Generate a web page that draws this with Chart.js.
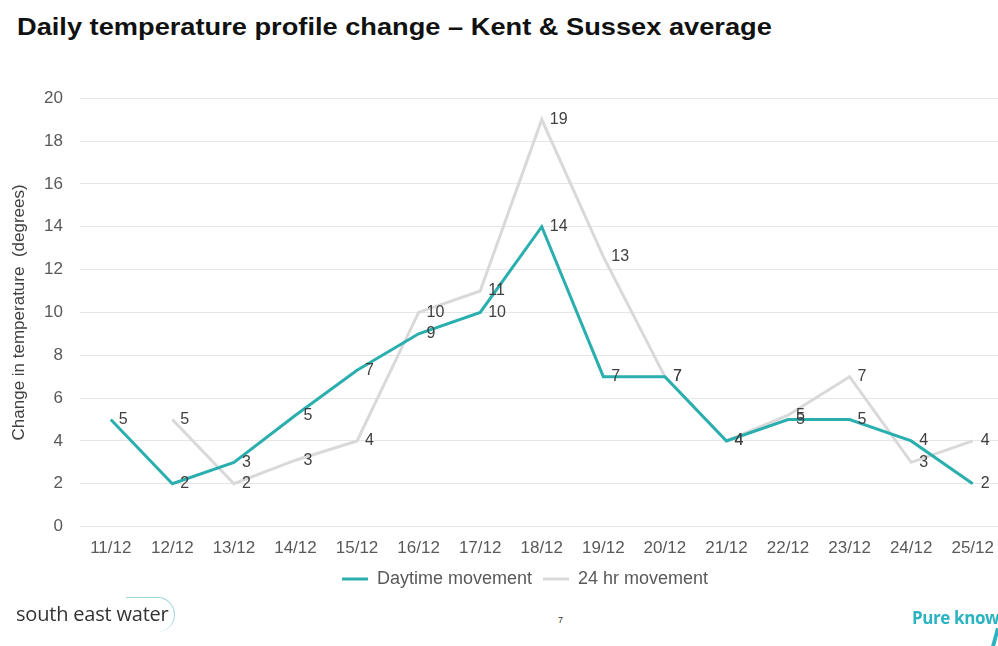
<!DOCTYPE html>
<html>
<head>
<meta charset="utf-8">
<script src="https://cdn.jsdelivr.net/npm/chart.js@4.4.1/dist/chart.umd.min.js"></script>
<style>
  html, body { margin: 0; padding: 0; background: #fff; overflow: hidden; }
  body { width: 998px; height: 646px; position: relative; font-family: "Liberation Sans", Arial, sans-serif; }
  #title { position: absolute; left: 17px; top: 13px; font-size: 24px; font-weight: bold; color: #111; white-space: nowrap; transform: scaleX(1.134); transform-origin: left top; }
  #wrap { position: absolute; left: 0; top: 71px; width: 1006px; height: 539px; }
  #logo { position: absolute; left: 16px; top: 600px; font-family: "Open Sans", sans-serif; font-size: 20px; color: #333; letter-spacing: -0.2px; }
  #arc { position: absolute; left: 126px; top: 597px; width: 48px; height: 34px; border: 1px solid #9fd6dd; border-left: none; border-bottom: none; border-radius: 0 40px 40px 0; }
  #page { position: absolute; left: 558px; top: 615px; font-size: 9px; color: #333; }
  #pure { position: absolute; left: 912px; top: 606px; font-family: "Open Sans", sans-serif; font-weight: bold; font-size: 17px; color: #2bb3c0; letter-spacing: -0.4px; white-space: nowrap; }
  #slash { position: absolute; left: 993px; top: 628px; width: 4px; height: 22px; background: #2bb3c0; transform: skewX(-15deg); }
</style>
</head>
<body>
<div id="title">Daily temperature profile change – Kent &amp; Sussex average</div>
<div id="wrap"><canvas id="chart"></canvas></div>
<div id="arc"></div>
<div id="logo">south east water</div>
<div id="page">7</div>
<div id="pure">Pure knowledge</div>
<div id="slash"></div>
<script>
// Chart data
const days = ['11/12', '12/12', '13/12', '14/12', '15/12', '16/12', '17/12', '18/12',
              '19/12', '20/12', '21/12', '22/12', '23/12', '24/12', '25/12'];
const daytimeMovement = [5, 2, 3, 5.2, 7.3, 9, 10, 14, 7, 7, 4, 5, 5, 4, 2];
const dayMovement24hr = [null, 5, 2, 3.1, 4, 10, 11, 19, 12.6, 7, 4, 5.2, 7, 3, 4];
const yTicks = [0, 2, 4, 6, 8, 10, 12, 14, 16, 18, 20];

const TEAL = '#2aaeae';
const GREY = '#d9d9d9';
const FONT = '"Liberation Sans", Arial, sans-serif';

// Value labels to the right of each point
const valueLabels = {
    id: 'valueLabels',
    afterDatasetsDraw(chart) {
        const ctx = chart.ctx;
        ctx.save();
        ctx.font = '16px ' + FONT;
        ctx.fillStyle = '#404040';
        ctx.textAlign = 'left';
        ctx.textBaseline = 'middle';
        chart.data.datasets.forEach((ds, i) => {
            chart.getDatasetMeta(i).data.forEach((pt, j) => {
                const v = ds.data[j];
                if (v === null) return;
                ctx.fillText(String(Math.round(v)), pt.x + 8, pt.y);
            });
        });
        ctx.restore();
    }
};

// Nudge the legend up and right, closer to the axis like the original
const legendNudge = {
    id: 'legendNudge',
    afterLayout(chart) {
        const lg = chart.legend;
        lg.top -= 12; lg.bottom -= 12;
        lg.left += 22; lg.right += 22;
    }
};

const config = {
    type: 'line',
    data: {
        labels: days,
        datasets: [{
            label: 'Daytime movement',
            data: daytimeMovement,
            borderColor: TEAL,
            backgroundColor: TEAL,
            borderWidth: 3,
            pointRadius: 0,
            tension: 0
        }, {
            label: '24 hr movement',
            data: dayMovement24hr,
            borderColor: GREY,
            backgroundColor: GREY,
            borderWidth: 3,
            pointRadius: 0,
            tension: 0
        }]
    },
    options: {
        responsive: true,
        maintainAspectRatio: false,
        animation: false,
        layout: { padding: 0 },
        plugins: {
            tooltip: { enabled: false },
            legend: {
                position: 'bottom',
                labels: {
                    usePointStyle: true,
                    pointStyle: 'line',
                    pointStyleWidth: 26,
                    boxHeight: 3,
                    padding: 11,
                    color: '#595959',
                    font: { family: FONT, size: 18 }
                }
            }
        },
        scales: {
            x: {
                offset: true,
                grid: { display: false, drawTicks: false },
                border: { display: false },
                ticks: {
                    color: '#595959',
                    padding: 12,
                    maxRotation: 0,
                    font: { family: FONT, size: 17 }
                }
            },
            y: {
                min: 0,
                max: 20,
                afterBuildTicks: (scale) => { scale.ticks = yTicks.map(v => ({ value: v })); },
                afterFit: (scale) => { scale.width = 80; },
                grid: { color: '#e6e6e6', drawTicks: false, lineWidth: 1 },
                border: { display: false },
                ticks: {
                    color: '#595959',
                    padding: 17,
                    font: { family: FONT, size: 17 }
                },
                title: {
                    display: true,
                    text: 'Change in temperature  (degrees)',
                    color: '#404040',
                    padding: { top: 9, bottom: 0 },
                    font: { family: FONT, size: 17 }
                }
            }
        }
    },
    plugins: [valueLabels, legendNudge]
};

const tempChart = new Chart(document.getElementById('chart'), config);
</script>
</body>
</html>
